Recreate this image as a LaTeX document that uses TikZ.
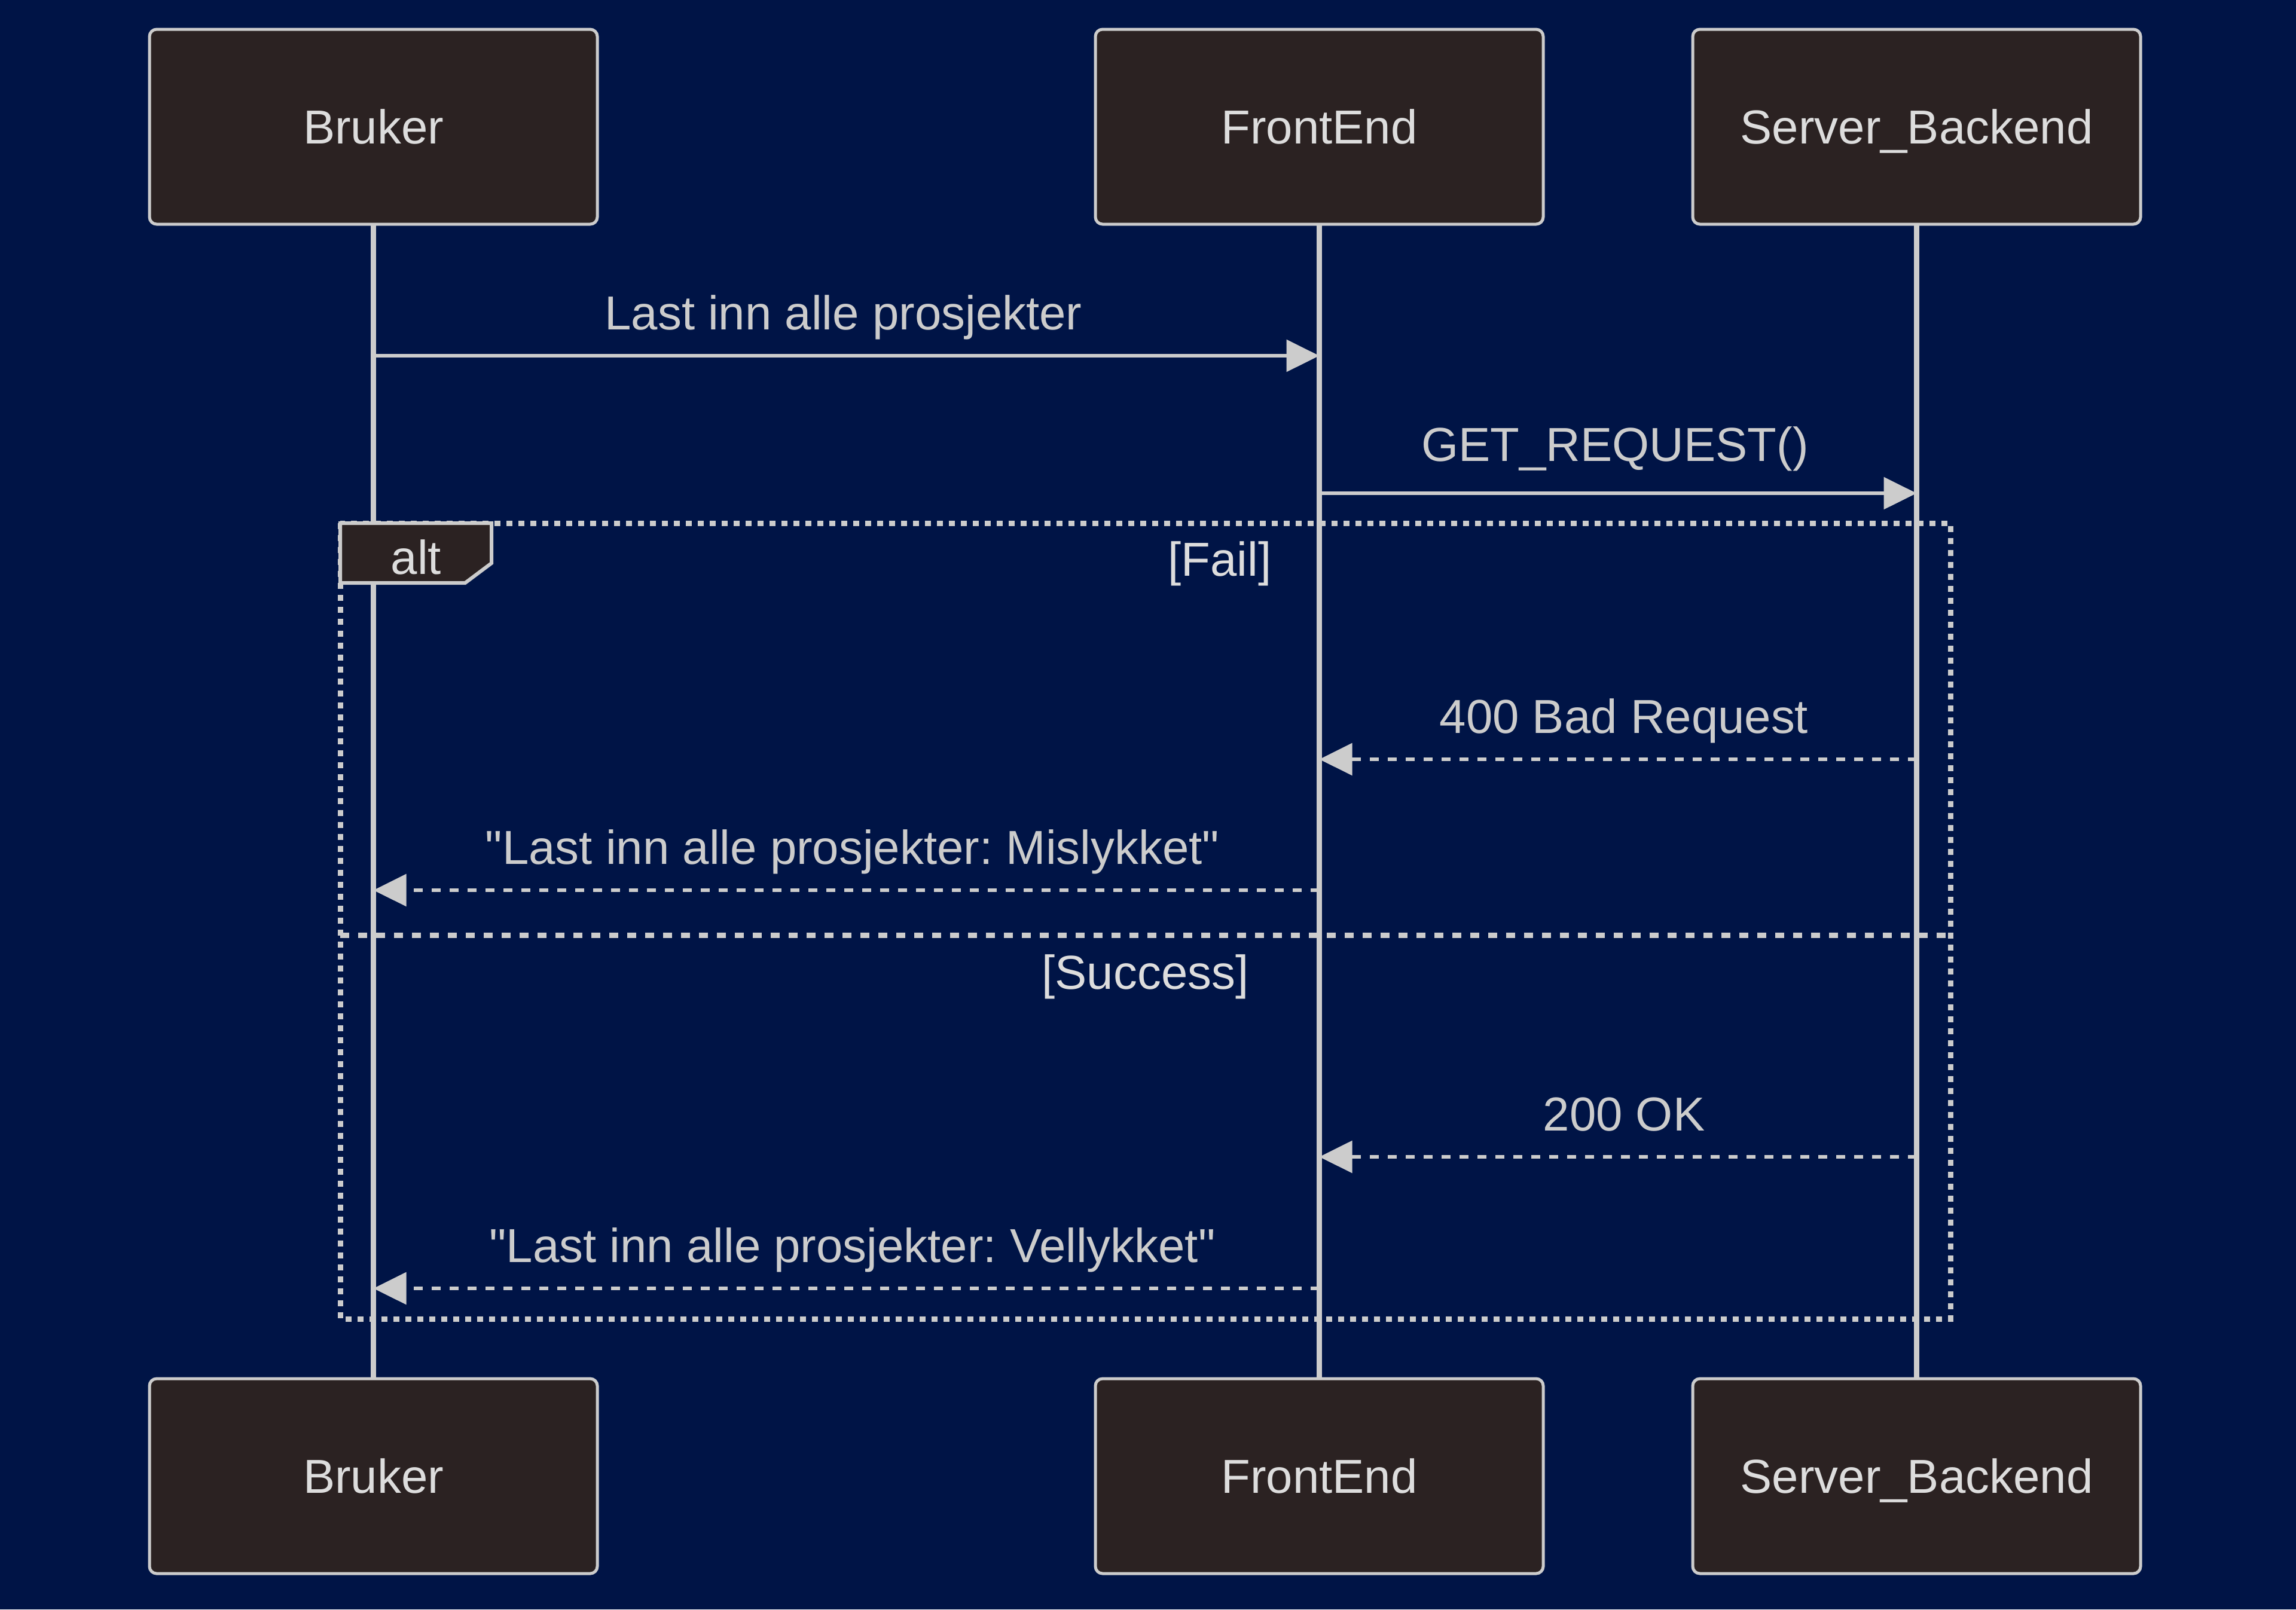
\documentclass[tikz,border=0pt]{standalone}
\usepackage{fontspec}
\setmainfont{Liberation Sans}[Ligatures=TeXOff]
\usepackage{tikz}
\usetikzlibrary{positioning,arrows.meta}
\definecolor{bgnavy}{HTML}{001446}
\definecolor{boxfill}{HTML}{2B2222}
\definecolor{linegray}{HTML}{CCCCCC}
\definecolor{txtgray}{HTML}{DDDDDD}
\tikzset{
  actor/.style={draw=linegray,fill=boxfill,line width=0.05cm,rounded corners=0.12cm,
    minimum width=7.49cm,minimum height=3.26cm,text height=0.57cm,text depth=0cm,
    inner sep=0,outer sep=0,text=txtgray},
  life/.style={draw=linegray,line width=0.09cm},
  call/.style={draw=linegray,line width=0.06cm,-{Triangle[length=0.55cm,width=0.53cm]}},
  reply/.style={call,dash pattern=on 0.15cm off 0.15cm},
  lbl/.style={anchor=base,yshift=0.44cm,inner sep=0,text=linegray},
  rlbl/.style={lbl,xshift=0.1cm},
  frame/.style={draw=linegray,line width=0.09cm,dash pattern=on 0.1cm off 0.1cm},
  divider/.style={draw=linegray,line width=0.09cm,dash pattern=on 0.15cm off 0.15cm},
  tag/.style={anchor=base,inner sep=0,text=txtgray}
}
\begin{document}
\frenchspacing
\begin{tikzpicture}[font=\fontsize{22.7}{27}\selectfont]
  \fill[bgnavy] (0,0) rectangle (38.40,-26.92);
  \useasboundingbox (0,0) rectangle (38.40,-26.92);
  \node(bruker)[actor] at (6.245,-2.12) {Bruker};
  \node(frontend)[actor,right=8.33cm of bruker] {FrontEnd};
  \node(server)[actor,right=2.50cm of frontend] {Server\_Backend};
  \node(brukerend)[actor,below=19.31cm of bruker] {Bruker};
  \node(frontendend)[actor,below=19.31cm of frontend] {FrontEnd};
  \node(serverend)[actor,below=19.31cm of server] {Server\_Backend};
  \draw[life] (bruker.south) -- (brukerend.north);
  \draw[life] (frontend.south) -- (frontendend.north);
  \draw[life] (server.south) -- (serverend.north);
  \node(m1)[coordinate] at (0,-5.95) {};
  \node(m2)[coordinate] at (0,-8.25) {};
  \node(m3)[coordinate] at (0,-12.70) {};
  \node(m4)[coordinate] at (0,-14.89) {};
  \node(m5)[coordinate] at (0,-19.35) {};
  \node(m6)[coordinate] at (0,-21.55) {};
  \node(altnw)[coordinate] at (5.69,-8.75) {};
  \node(altse)[coordinate] at (32.62,-22.06) {};
  \node(div)[coordinate] at (0,-15.64) {};
  \draw[call] (m1 -| bruker) -- (m1 -| frontend) node[midway,lbl,xshift=-0.05cm] {Last inn alle prosjekter};
  \draw[call] (m2 -| frontend) -- (m2 -| server) node[midway,lbl,xshift=-0.05cm,yshift=0.10cm] {GET\_REQUEST()};
  \draw[frame] (altnw) rectangle (altse);
  \draw[divider] (div -| altnw) -- (div -| altse);
  \draw[draw=linegray,fill=boxfill,line width=0.06cm] (altnw) -- ++(2.53,0) -- ++(0,-0.67) -- ++(-0.44,-0.33) -| cycle;
  \node(alttag)[tag] at (6.96,-9.60) {alt};
  \node(failtag)[tag] at (20.40,-9.63) {[Fail]};
  \node(successtag)[tag] at (19.155,-16.54) {[Success]};
  \draw[reply] (m3 -| server) -- (m3 -| frontend) node[midway,rlbl] {400 Bad Request};
  \draw[reply] (m4 -| frontend) -- (m4 -| bruker) node[midway,rlbl] {"Last inn alle prosjekter: Mislykket"};
  \draw[reply] (m5 -| server) -- (m5 -| frontend) node[midway,rlbl] {200 OK};
  \draw[reply] (m6 -| frontend) -- (m6 -| bruker) node[midway,rlbl] {"Last inn alle prosjekter: Vellykket"};
\end{tikzpicture}
\end{document}
